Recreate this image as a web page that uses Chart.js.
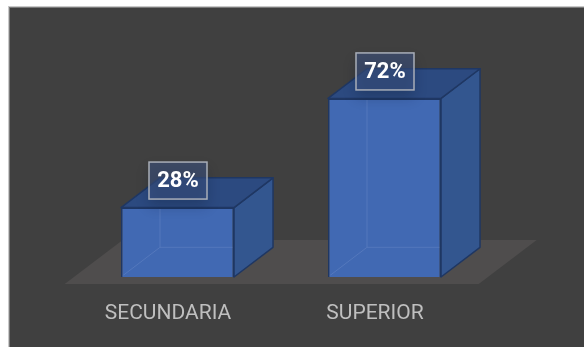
<!DOCTYPE html>
<html>
<head>
<meta charset="utf-8">
<script src="https://cdn.jsdelivr.net/npm/chart.js@4/dist/chart.umd.min.js"></script>
<style>
  html, body { margin: 0; padding: 0; background: #ffffff; }
  #wrap { position: absolute; left: 0; top: 0; width: 584px; height: 347px; }
</style>
</head>
<body>
<div id="wrap"><canvas id="c" width="584" height="347"></canvas></div>
<script>
// Education level shares (%)
const categories = ['SECUNDARIA', 'SUPERIOR'];
const shares = [28, 72];
const valueLabels = ['28%', '72%'];

// Oblique projection vectors for the pseudo-3D look
const DEPTH_BAR = { x: 39, y: -29.7 };     // bar front -> bar back
const FLOOR_FRONT = { x: -9.3, y: 7 };     // bar plane -> floor front edge
const FLOOR_BACK = { x: 48.7, y: -37 };    // bar plane -> floor back edge

const COLORS = {
  page: '#ffffff',
  panel: '#404040',
  floor: '#4f4d4d',
  front: '#4169b3',
  side: '#33568f',
  top: '#2c4a80',
  edge: '#1f3763',
  label: '#bfbfbf'
};

const background = {
  id: 'panelBackground',
  beforeDraw(chart) {
    const ctx = chart.ctx;
    ctx.save();
    ctx.fillStyle = COLORS.page;
    ctx.fillRect(0, 0, chart.width, chart.height);
    ctx.fillStyle = '#c9c9c9';
    ctx.fillRect(8, 6, chart.width - 8, 1);
    ctx.fillRect(8, 6, 1, chart.height - 6);
    ctx.fillStyle = '#7a7a7a';
    ctx.fillRect(9, 7, chart.width - 9, 1);
    ctx.fillRect(9, 7, 1, chart.height - 7);
    ctx.fillStyle = COLORS.panel;
    ctx.fillRect(10, 8, chart.width - 10, chart.height - 8);
    ctx.restore();
  }
};

const boxes3d = {
  id: 'boxes3d',
  beforeDatasetsDraw(chart) {
    // floor plane under the bars
    const ctx = chart.ctx;
    const area = chart.chartArea;
    const base = chart.scales.y.getPixelForValue(0);
    ctx.save();
    ctx.beginPath();
    ctx.moveTo(area.left + FLOOR_FRONT.x, base + FLOOR_FRONT.y);
    ctx.lineTo(area.right + FLOOR_FRONT.x, base + FLOOR_FRONT.y);
    ctx.lineTo(area.right + FLOOR_BACK.x, base + FLOOR_BACK.y);
    ctx.lineTo(area.left + FLOOR_BACK.x, base + FLOOR_BACK.y);
    ctx.closePath();
    ctx.fillStyle = COLORS.floor;
    ctx.fill();
    ctx.restore();
  },
  afterDatasetsDraw(chart) {
    const ctx = chart.ctx;
    const meta = chart.getDatasetMeta(0);
    meta.data.forEach((bar) => {
      const p = bar.getProps(['x', 'y', 'base', 'width'], true);
      const L = p.x - p.width / 2, R = p.x + p.width / 2;
      const T = p.y, B = p.base;
      const dx = DEPTH_BAR.x, dy = DEPTH_BAR.y;
      ctx.save();
      ctx.lineJoin = 'round';
      ctx.lineWidth = 1.5;
      ctx.strokeStyle = COLORS.edge;

      // faint hidden edges seen through the front face
      ctx.save();
      ctx.beginPath();
      ctx.rect(L + 1.5, T + 1.5, p.width - 3, B - T - 3);
      ctx.clip();
      ctx.strokeStyle = 'rgba(120,150,205,0.35)';
      ctx.lineWidth = 1;
      ctx.beginPath();
      ctx.moveTo(L, B);
      ctx.lineTo(L + dx, B + dy);
      ctx.lineTo(R + dx, B + dy);
      ctx.moveTo(L + dx, B + dy);
      ctx.lineTo(L + dx, T + dy);
      ctx.stroke();
      ctx.restore();

      // right side face
      ctx.beginPath();
      ctx.moveTo(R, T);
      ctx.lineTo(R + dx, T + dy);
      ctx.lineTo(R + dx, B + dy);
      ctx.lineTo(R, B);
      ctx.closePath();
      ctx.fillStyle = COLORS.side;
      ctx.fill();
      ctx.stroke();

      // top face
      ctx.beginPath();
      ctx.moveTo(L, T);
      ctx.lineTo(L + dx, T + dy);
      ctx.lineTo(R + dx, T + dy);
      ctx.lineTo(R, T);
      ctx.closePath();
      ctx.fillStyle = COLORS.top;
      ctx.fill();
      ctx.stroke();
      ctx.restore();
    });

    // value labels in framed boxes
    meta.data.forEach((bar, i) => {
      const p = bar.getProps(['x', 'y'], true);
      const cx = p.x + 0.5, cy = p.y - 27;
      const w = 58, h = 37;
      ctx.save();
      ctx.shadowColor = 'rgba(10,20,40,0.45)';
      ctx.shadowBlur = 12;
      ctx.shadowOffsetY = 7;
      ctx.fillStyle = 'rgba(60,82,130,0.55)';
      ctx.fillRect(cx - w / 2, cy - h / 2, w, h);
      ctx.restore();
      ctx.save();
      ctx.strokeStyle = '#a9aeb8';
      ctx.lineWidth = 1.5;
      ctx.strokeRect(cx - w / 2, cy - h / 2, w, h);
      ctx.fillStyle = '#ffffff';
      ctx.font = 'bold 22px Roboto';
      ctx.textAlign = 'center';
      ctx.textBaseline = 'middle';
      ctx.fillText(valueLabels[i], cx, cy + 1);
      ctx.restore();
    });
  }
};

new Chart(document.getElementById('c'), {
  type: 'bar',
  data: {
    labels: categories,
    datasets: [{
      data: shares,
      backgroundColor: COLORS.front,
      borderColor: COLORS.edge,
      borderWidth: 1.5,
      categoryPercentage: 1,
      barPercentage: 0.546
    }]
  },
  options: {
    responsive: false,
    animation: false,
    devicePixelRatio: 1,
    layout: { padding: { left: 74, right: 96, top: 29, bottom: 0 } },
    plugins: { legend: { display: false }, tooltip: { enabled: false } },
    scales: {
      y: { display: false, min: 0, max: 100 },
      x: {
        grid: { display: false, drawTicks: false },
        border: { display: false },
        ticks: {
          color: COLORS.label,
          font: { family: 'Roboto', size: 21 },
          padding: 24,
          labelOffset: -9.5
        },
        afterFit(scale) { scale.height = 70; }
      }
    }
  },
  plugins: [background, boxes3d]
});
</script>
</body>
</html>
